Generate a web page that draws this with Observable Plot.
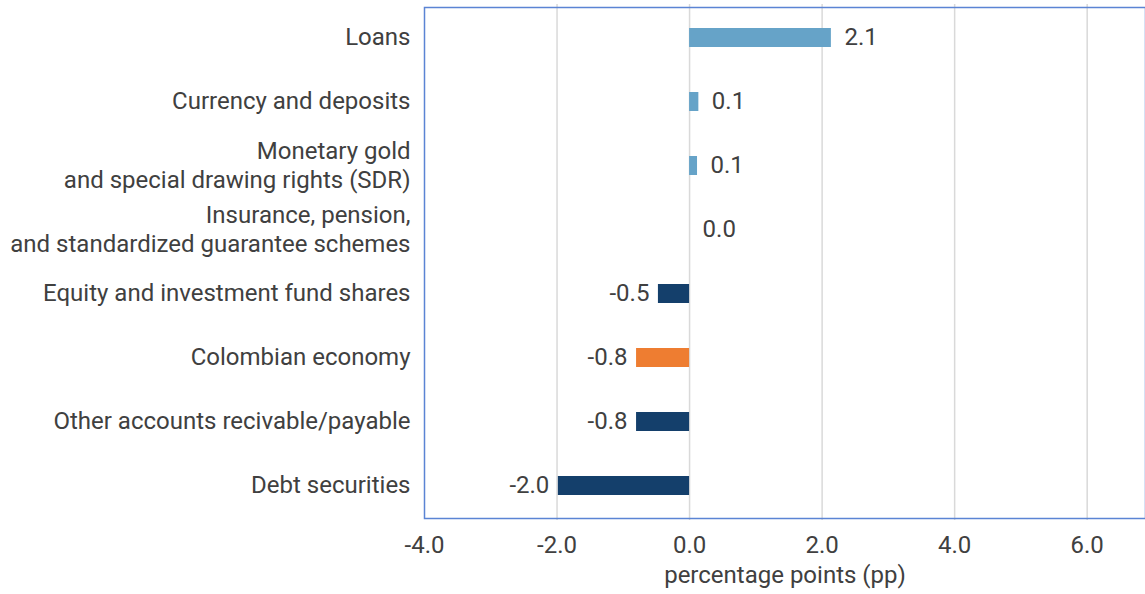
<!DOCTYPE html>
<html>
<head>
<meta charset="utf-8">
<script src="https://cdn.jsdelivr.net/npm/d3@7"></script>
<script src="https://cdn.jsdelivr.net/npm/@observablehq/plot@0.6"></script>
<style>
  html, body { margin: 0; padding: 0; background: #fff; }
  #chart svg { display: block; font-family: Roboto, "Noto Sans", sans-serif; }
</style>
</head>
<body>
<div id="chart"></div>
<script>
const categories = [
  "Loans",
  "Currency and deposits",
  "Monetary gold\nand special drawing rights (SDR)",
  "Insurance, pension,\nand standardized guarantee schemes",
  "Equity and investment fund shares",
  "Colombian economy",
  "Other accounts recivable/payable",
  "Debt securities"
];
const values = [2.14, 0.14, 0.12, 0.0, -0.47, -0.80, -0.80, -1.98];
const groups = ["up", "up", "up", "up", "down", "total", "down", "down"];
const xTicks = [-4, -2, 0, 2, 4, 6];
const xLabel = "percentage points (pp)";

const data = categories.map((c, i) => ({category: c, value: values[i], group: groups[i]}));
const textColor = "#404040";
const fs = 24;
const fmt = v => v.toFixed(1);

const chart = Plot.plot({
  width: 1145,
  height: 594,
  marginLeft: 424,
  marginRight: 0,
  marginTop: 4,
  marginBottom: 74,
  style: {fontFamily: "Roboto, 'Noto Sans', sans-serif", fontSize: fs + "px", color: textColor},
  x: {domain: [-4, 6.88], ticks: xTicks, tickFormat: fmt, label: null},
  y: {domain: categories, paddingInner: 0.7, paddingOuter: 0.35, axis: null},
  color: {domain: ["up", "down", "total"], range: ["#66a3c8", "#143f6b", "#ee7d31"]},
  marks: [
    Plot.gridX(xTicks.filter(t => t > -4), {stroke: "#d9d9d9", strokeOpacity: 1, strokeWidth: 1.5}),
    Plot.barX(data, {x1: 0, x2: "value", y: "category", fill: "group"}),
    Plot.text(data.filter(d => d.value >= 0), {x: "value", y: "category", text: d => fmt(d.value), textAnchor: "start", dx: 13, dy: -1, fill: textColor, fontSize: fs}),
    Plot.text(data.filter(d => d.value < 0), {x: "value", y: "category", text: d => fmt(d.value), textAnchor: "end", dx: -9, dy: -1, fill: textColor, fontSize: fs}),
    Plot.text(data, {x: -4, y: "category", text: "category", textAnchor: "end", dx: -14, dy: -2, lineHeight: 1.2, fill: textColor, fontSize: fs}),
    Plot.frame({stroke: "#5b84d4", strokeWidth: 1.5, insetTop: 3, insetBottom: 2}),
    Plot.axisX({ticks: xTicks, tickFormat: fmt, tickSize: 0, tickPadding: 15, fontSize: fs, fill: textColor, label: null}),
    Plot.text([xLabel], {frameAnchor: "bottom", text: d => d, dy: 62, fill: textColor, fontSize: fs})
  ]
});
document.getElementById("chart").appendChild(chart);
</script>
</body>
</html>
